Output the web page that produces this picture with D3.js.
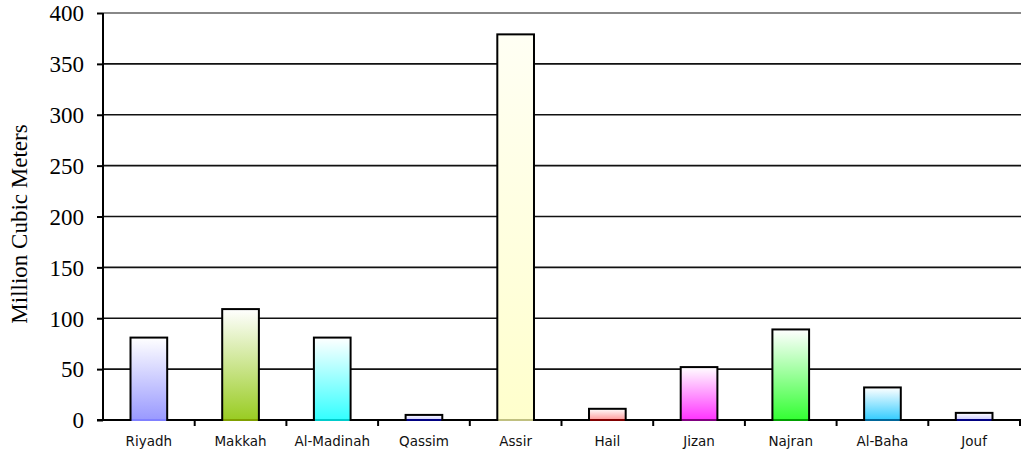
<!DOCTYPE html>
<html><head><meta charset="utf-8">
<script src="https://cdn.jsdelivr.net/npm/d3@7"></script>
<style>body{margin:0;background:#fff}svg{display:block}</style>
</head><body>
<svg id="chart" width="1021" height="452"></svg>
<script>
const categories = ["Riyadh","Makkah","Al-Madinah","Qassim","Assir","Hail","Jizan","Najran","Al-Baha","Jouf"];
const values = [81, 109, 81, 5, 379, 11, 52, 89, 32, 7];
const yTicks = [0,50,100,150,200,250,300,350,400];
const barColors = ["#9999ff","#99cc22","#33ffff","#ccccff","#ffffcc","#ff9999","#ff33ff","#33ff33","#33ccff","#ccccff"];
const baseColors = ["#8080ff","#80a000","#00cccc","#000080","#c0c080","#800000","#800080","#00a000","#006699","#000080"];
const yTitle = "Million Cubic Meters";

const svg = d3.select("#chart");
const L = 103, R = 1020, T = 13, B = 420;
const y = d3.scaleLinear().domain([0,400]).range([B,T]);
const xb = d3.scaleBand().domain(categories).range([L,R]).paddingInner(0.6).paddingOuter(0.3);
const xs = d3.scaleBand().domain(categories).range([L,R]).padding(0);

const defs = svg.append("defs");
categories.forEach((c,i)=>{
  const g = defs.append("linearGradient").attr("id","g"+i).attr("x1",0).attr("y1",0).attr("x2",0).attr("y2",1);
  const top = i===4 ? "#fffff4" : "#ffffff";
  g.append("stop").attr("offset","0%").attr("stop-color",top);
  g.append("stop").attr("offset","100%").attr("stop-color",barColors[i]);
});

// gridlines
svg.append("g").selectAll("line").data(yTicks.filter(d=>d>0)).join("line")
  .attr("x1",L).attr("x2",1021).attr("y1",d=>y(d)).attr("y2",d=>y(d))
  .attr("stroke",d=>d===400?"#888":"#111").attr("stroke-width",d=>d===400?2:1.6);

// bars
svg.append("g").selectAll("rect").data(values).join("rect")
  .attr("x",(d,i)=>xb(categories[i])).attr("width",xb.bandwidth())
  .attr("y",d=>y(d)).attr("height",d=>B-y(d))
  .attr("fill",(d,i)=>`url(#g${i})`).attr("stroke","#000").attr("stroke-width",2);

// y axis
const ya = d3.axisLeft(y).tickValues(yTicks).tickSize(6).tickPadding(13);
const yg = svg.append("g").attr("transform",`translate(${L},0)`).call(ya);
yg.select(".domain").attr("stroke","#000").attr("stroke-width",2).attr("d",`M0,${T}V${B}`);
yg.selectAll(".tick line").attr("stroke","#000").attr("stroke-width",2);
yg.selectAll(".tick text").attr("font-family","'Liberation Serif', 'Times New Roman', serif").attr("font-size",23).attr("fill","#000").attr("dy","0.34em");

// x axis line
svg.append("line").attr("x1",L-6).attr("x2",1021).attr("y1",B).attr("y2",B).attr("stroke","#000").attr("stroke-width",2);
// colored base lines
svg.append("g").selectAll("line").data(values).join("line")
  .attr("x1",(d,i)=>xb(categories[i])+1).attr("x2",(d,i)=>xb(categories[i])+xb.bandwidth()-1)
  .attr("y1",B).attr("y2",B).attr("stroke",(d,i)=>baseColors[i]).attr("stroke-width",2);

// category ticks
const xa = d3.axisBottom(xs).tickSize(0).tickPadding(0);
const xg = svg.append("g").attr("transform",`translate(0,${B})`).call(xa);
xg.select(".domain").remove();
xg.selectAll(".tick text").attr("font-family","'DejaVu Sans', Verdana, sans-serif").attr("font-size",13.5).attr("fill","#111").attr("y",26).attr("dy",0);
svg.append("g").selectAll("line").data(categories.slice(1).concat(["_end"])).join("line")
  .attr("x1",(d,i)=>L+xs.step()*(i+1)).attr("x2",(d,i)=>L+xs.step()*(i+1))
  .attr("y1",B).attr("y2",B+6).attr("stroke","#000").attr("stroke-width",2);

// y title
svg.append("text").attr("transform","translate(27,224) rotate(-90)")
  .attr("text-anchor","middle").attr("font-family","'Liberation Serif', 'Times New Roman', serif")
  .attr("font-size",23).attr("fill","#000").text(yTitle);
</script>
</body></html>
